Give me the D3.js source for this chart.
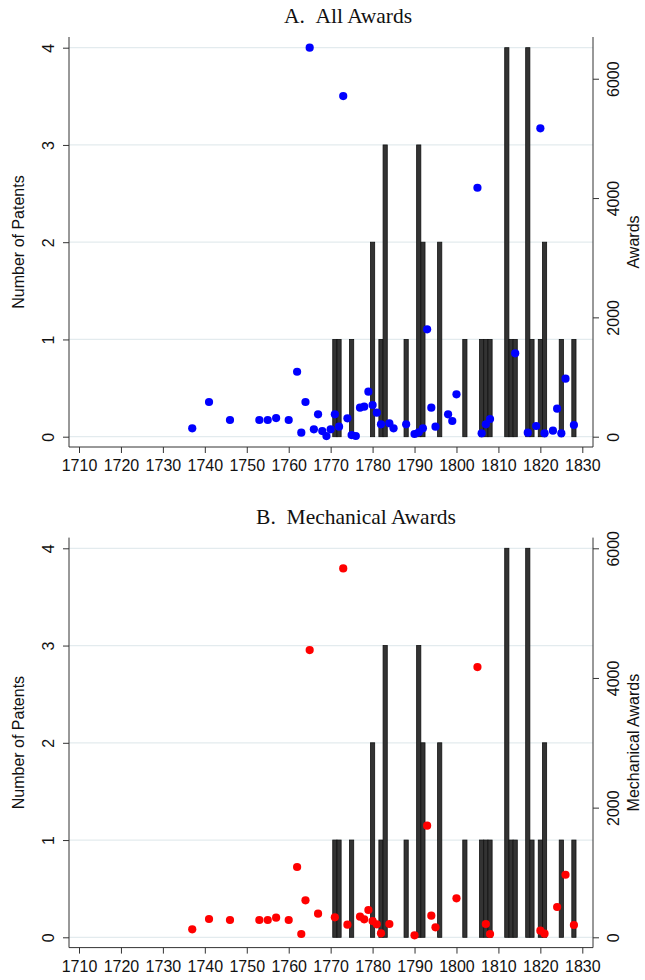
<!DOCTYPE html>
<html>
<head>
<meta charset="utf-8">
<script src="https://cdn.jsdelivr.net/npm/d3@7"></script>
<style>
  body { margin: 0; background: #fff; }
  text { font-family: "Liberation Sans", Arial, sans-serif; fill: #111; }
  .title { font-family: "Liberation Serif", "Times New Roman", serif; }
</style>
</head>
<body>
<svg width="645" height="980"></svg>
<script>
// patents per year (bars, left axis) -- same in both panels
var barYears  = [1771,1772,1775,1780,1782,1783,1788,1791,1792,1796,1802,1806,1807,1808,1812,1813,1814,1817,1818,1820,1821,1825,1828];
var barCounts = [1,1,1,2,1,3,1,3,2,2,1,1,1,1,4,1,1,4,1,1,2,1,1];

// panel A: all awards (right axis)
var allYears  = [1737,1741,1746,1753,1755,1757,1760,1762,1763,1764,1765,1766,1767,1768,1769,1770,1771,1772,1773,1774,1775,1776,1777,1778,1779,1780,1781,1782,1784,1785,1788,1790,1791,1792,1793,1794,1795,1798,1799,1800,1805,1806,1807,1808,1814,1817,1819,1820,1821,1823,1824,1825,1826,1828];
var allAwards = [141,582,280,280,280,313,280,1089,67,582,6520,124,375,95,10,124,375,168,5710,308,28,12,486,503,754,531,402,207,224,141,207,45,74,141,1800,486,168,375,263,711,4173,57,207,297,1398,67,179,5169,57,101,469,57,972,196];

// panel B: mechanical awards (right axis)
var mechYears  = [1737,1741,1746,1753,1755,1757,1760,1762,1763,1764,1765,1767,1771,1773,1774,1777,1778,1779,1780,1781,1782,1784,1790,1793,1794,1795,1800,1805,1807,1808,1820,1821,1824,1826,1828];
var mechAwards = [123,282,267,267,267,302,267,1084,51,570,4430,364,308,5690,194,318,278,421,251,200,62,205,31,1721,333,154,601,4168,205,51,102,56,467,965,190];

var xTicks = d3.range(1710, 1831, 10);
var leftTicks = [0, 1, 2, 3, 4];
var rightTicks = [0, 2000, 4000, 6000];

var svg = d3.select("svg");

var left = 69, right = 593;
var x = d3.scaleLinear().domain([1710, 1830]).range([79, 582.3]);
var fmt = d3.format("d");
var fs = "16px";

function drawPanel(off, title, titleX, years, vals, color, rightTitle) {
  var g = svg.append("g").attr("transform", "translate(0," + off + ")");
  var top = 37, bottom = 447;
  var yL = d3.scaleLinear().domain([0, 4]).range([436.7, 47.7]);
  var yR = d3.scaleLinear().domain([0, Math.max(6000, d3.max(vals))]).range([436.7, 47.7]);

  // gridlines
  g.selectAll("line.grid").data(leftTicks).enter().append("line")
    .attr("x1", left).attr("x2", right)
    .attr("y1", function(d) { return yL(d); }).attr("y2", function(d) { return yL(d); })
    .attr("stroke", "#e3ebee").attr("stroke-width", 1.3);

  // bars
  g.selectAll("rect.bar").data(barYears).enter().append("rect")
    .attr("x", function(d) { return x(d - 0.5); })
    .attr("width", function(d) { return x(d + 0.5) - x(d - 0.5); })
    .attr("y", function(d, i) { return yL(barCounts[i]); })
    .attr("height", function(d, i) { return yL(0) - yL(barCounts[i]); })
    .attr("fill", "#333").attr("stroke", "#111").attr("stroke-width", 0.8);

  // dots
  g.selectAll("circle").data(years).enter().append("circle")
    .attr("cx", function(d) { return x(d); })
    .attr("cy", function(d, i) { return yR(vals[i]); })
    .attr("r", 4.1)
    .attr("fill", color);

  // axis lines
  g.append("line").attr("x1", left).attr("x2", left).attr("y1", top).attr("y2", bottom).attr("stroke", "#333");
  g.append("line").attr("x1", right).attr("x2", right).attr("y1", top).attr("y2", bottom).attr("stroke", "#333");
  g.append("line").attr("x1", left).attr("x2", right).attr("y1", bottom).attr("y2", bottom).attr("stroke", "#333");

  // x axis
  var xa = g.append("g").attr("transform", "translate(0," + bottom + ")")
    .call(d3.axisBottom(x).tickValues(xTicks).tickFormat(fmt).tickSize(6).tickPadding(7));
  xa.select(".domain").remove();
  xa.selectAll(".tick line").attr("stroke", "#333");
  xa.selectAll(".tick text").style("font-size", fs).attr("fill", "#111");

  // left axis
  var la = g.append("g").attr("transform", "translate(" + left + ",0)")
    .call(d3.axisLeft(yL).tickValues(leftTicks).tickFormat(fmt).tickSize(6));
  la.select(".domain").remove();
  la.selectAll(".tick line").attr("stroke", "#333");
  la.selectAll(".tick text").attr("x", null).attr("dy", null)
    .attr("text-anchor", "middle").attr("transform", "translate(-15,0) rotate(-90)")
    .style("font-size", fs).attr("fill", "#111");

  // right axis
  var ra = g.append("g").attr("transform", "translate(" + right + ",0)")
    .call(d3.axisRight(yR).tickValues(rightTicks).tickFormat(fmt).tickSize(6));
  ra.select(".domain").remove();
  ra.selectAll(".tick line").attr("stroke", "#333");
  ra.selectAll(".tick text").attr("x", null).attr("dy", null)
    .attr("text-anchor", "middle").attr("transform", "translate(26,0) rotate(-90)")
    .style("font-size", fs).attr("fill", "#111");

  // axis titles
  g.append("text").attr("text-anchor", "middle")
    .attr("transform", "translate(24," + (top + bottom) / 2 + ") rotate(-90)")
    .style("font-size", fs).text("Number of Patents");
  g.append("text").attr("text-anchor", "middle")
    .attr("transform", "translate(639," + (top + bottom) / 2 + ") rotate(-90)")
    .style("font-size", fs).text(rightTitle);

  // panel title
  g.append("text").attr("class", "title").attr("text-anchor", "middle")
    .attr("x", titleX).attr("y", 23.3)
    .style("font-size", "21.5px").text(title);
}

drawPanel(0, "A.\u00a0\u00a0All Awards", 348, allYears, allAwards, "#0000ff", "Awards");
drawPanel(500.6, "B.\u00a0\u00a0Mechanical Awards", 356, mechYears, mechAwards, "#ff0000", "Mechanical Awards");
</script>
</body>
</html>
